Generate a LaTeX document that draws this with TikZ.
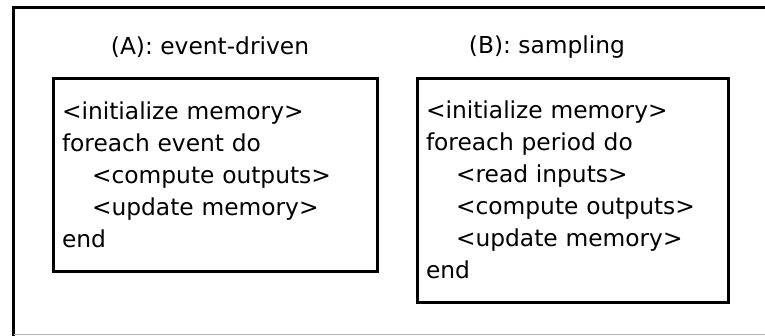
\documentclass[tikz,border=0pt]{standalone}
\usepackage{fontspec}
\setmainfont{DejaVu Sans}
\usepackage{tikz}
\def\ind{\hspace*{22.5pt}}
\tikzset{
  prog/.style={draw,line width=2.25pt,inner xsep=6.75pt,align=left,
    font=\fontsize{17.5}{24}\selectfont},
  ttl/.style={font=\fontsize{17.5}{24}\selectfont}
}

\begin{document}
\begin{tikzpicture}[x=0.75pt,y=-0.75pt]
                \useasboundingbox (0,0) rectangle (765,336);
                \draw[line width=2.25pt] (765,7.5) -- (13.5,7.5) -- (13.5,336);
                \draw[gray!60,line width=0.75pt] (13.5,334.5) -- (765,334.5);
                \node[prog,text width=229.5pt,minimum height=144.75pt] (evt) at (215,174.5)
                    {<initialize memory>\\foreach event do\\\ind<compute outputs>\\\ind<update memory>\\end};
                \node[prog,text width=219.75pt,minimum height=168pt] (smp) at (572.5,190)
                    {<initialize memory>\\foreach period do\\\ind<read inputs>\\\ind<compute outputs>\\\ind<update memory>\\end};
                \node[ttl] (evtttl) at (210,47) {(A): event-driven};
                \node[ttl] (smpttl) at (547,47) {(B): sampling};
            \end{tikzpicture}
\end{document}
